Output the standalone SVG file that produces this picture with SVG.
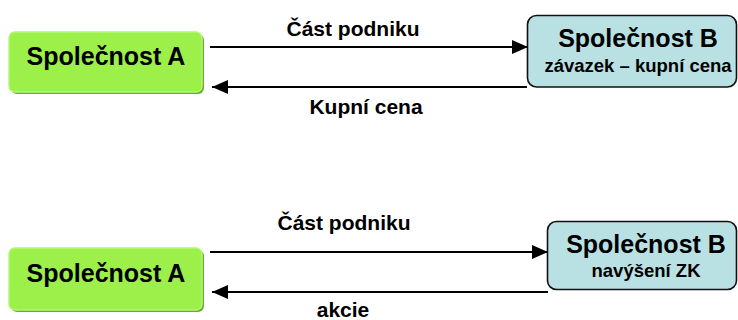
<svg xmlns="http://www.w3.org/2000/svg" width="738" height="320" viewBox="0 0 738 320">
<style>
text{font-family:"Liberation Sans",Arial,sans-serif;font-weight:bold;fill:#000;text-anchor:middle}
.t{font-size:25px}
.s{font-size:18.5px}
.l{font-size:21px}
.ash{fill:#69b02a}
.a{fill:#9def49;stroke:#b3f779;stroke-width:1.5}
.b{fill:#b9e0e3;stroke:#111;stroke-width:1.6}
.c{stroke:#000;stroke-width:2;fill:none;marker-end:url(#ah)}
</style>
<defs>
<marker id="ah" markerUnits="userSpaceOnUse" markerWidth="17" markerHeight="15" refX="16" refY="7" orient="auto">
<path d="M0,0 L16,7 L0,14 z" fill="#000"/>
</marker>
</defs>
<g id="connectors">
<line class="c" x1="210" y1="47" x2="528" y2="47"/>
<line class="c" x1="527" y1="87" x2="212" y2="87"/>
<line class="c" x1="210" y1="252" x2="548" y2="252"/>
<line class="c" x1="548" y1="292" x2="212" y2="292"/>
<text class="l" x="353" y="36">Část podniku</text>
<text class="l" x="366" y="114">Kupní cena</text>
<text class="l" x="344" y="230">Část podniku</text>
<text class="l" x="343" y="317">akcie</text>
</g>
<g id="nodeA1">
<rect class="ash" x="11" y="34" width="193" height="60" rx="6"/>
<rect class="a" x="9" y="32" width="193" height="60" rx="6"/>
<text class="t" x="106" y="65">Společnost A</text>
</g>
<g id="nodeB1">
<rect class="b" x="527.5" y="15.5" width="209" height="71.5" rx="9"/>
<text class="t" x="638" y="47">Společnost B</text>
<text class="s" x="638" y="72">závazek – kupní cena</text>
</g>
<g id="nodeA2">
<rect class="ash" x="11" y="250" width="193" height="62" rx="6"/>
<rect class="a" x="9" y="248" width="193" height="62" rx="6"/>
<text class="t" x="106" y="282">Společnost A</text>
</g>
<g id="nodeB2">
<rect class="b" x="547.5" y="221.5" width="189" height="68" rx="9"/>
<text class="t" x="646" y="253">Společnost B</text>
<text class="s" x="646" y="277">navýšení ZK</text>
</g>
</svg>
